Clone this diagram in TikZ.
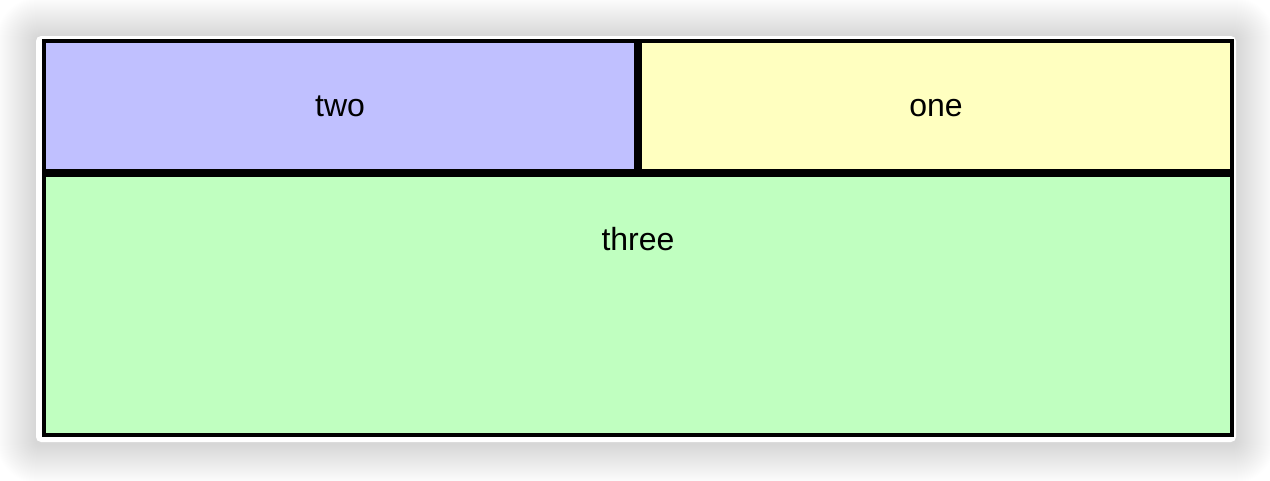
\documentclass[tikz,border=0pt]{standalone}
\usepackage{fontspec}
\setmainfont{Liberation Sans}
\definecolor{twofill}{RGB}{192,192,255}
\definecolor{onefill}{RGB}{255,255,192}
\definecolor{threefill}{RGB}{192,255,192}
\tikzset{
  rule/.style={draw=black},
  label/.style={font=\fontsize{32}{38}\selectfont, anchor=base, inner sep=0pt},
}
\begin{document}
\begin{tikzpicture}[x=1pt,y=-1pt]
\useasboundingbox (0,0) rectangle (1270,480);
% soft shadow
\foreach \i in {1,...,40}{
  \fill[black, opacity=0.0045, rounded corners=4+\i] (36-\i,37-\i) rectangle (1236+\i,444+\i);
}
% white card
\fill[white, rounded corners=5] (36,36) rectangle (1236,442);
% cells
\node[fill=twofill, inner sep=0pt, minimum width=594pt, minimum height=132pt, anchor=north west] (two) at (44,41) {};
\node[fill=onefill, inner sep=0pt, minimum width=594pt, minimum height=132pt, anchor=north west] (one) at (638,41) {};
\node[fill=threefill, inner sep=0pt, minimum width=1188pt, minimum height=262pt, anchor=north west] (three) at (44,173) {};
% borders
\draw[rule, line width=4pt] (two.north west) rectangle (three.south east);
\draw[rule, line width=8pt] (two.north east) -- (two.south east);
\draw[rule, line width=8pt] (three.north west) -- (three.north east);
% labels
\node[label] (ttwo) at (340,116) {two};
\node[label] (tone) at (936,116) {one};
\node[label] (tthree) at (638,250) {three};
\end{tikzpicture}
\end{document}
